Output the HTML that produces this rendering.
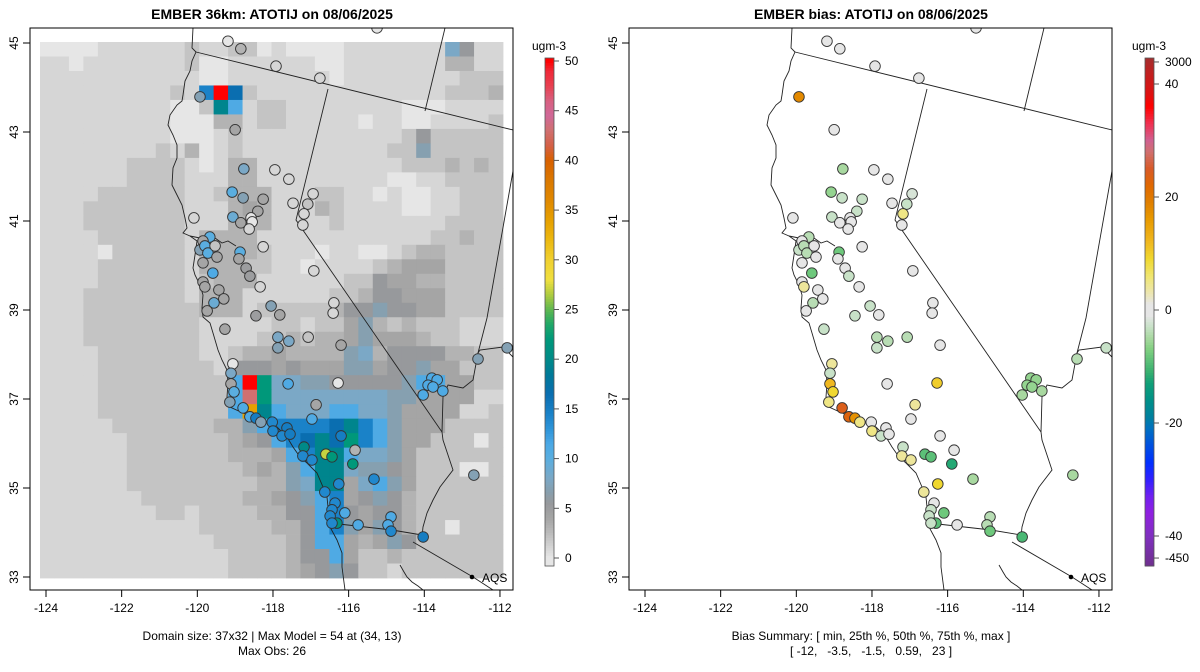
<!DOCTYPE html>
<html><head><meta charset="utf-8"><title>EMBER maps</title>
<style>
html,body{margin:0;padding:0;background:#fff;}
svg{display:block;font-family:"Liberation Sans",sans-serif;}
</style></head>
<body>
<svg id="root" width="1200" height="672" viewBox="0 0 1200 672" xmlns="http://www.w3.org/2000/svg">
<defs>
<clipPath id="clipL"><rect x="30" y="28" width="483" height="562"/></clipPath>
<clipPath id="clipR"><rect x="629" y="28" width="483" height="562"/></clipPath>
</defs>
</svg>
<script>
// ---------- DATA ----------
const gridRows = [
"aaaabbbbbbcbbccabaaaabbbbbbbhfbb",
"bbabbbbbbbcaabbbbbbaabbbbbbbddbb",
"bbbbbbbbbbbaabbbbbbbabbbbbbbbccc",
"bbbbbbbbbcbjpkcbbbbbbbbbbbbbcccd",
"bbbbbbbbbaaclibccbbbbbbbbaaabbbb",
"bbbbbbbbbaaaddbccbbbbbabbaabbbbc",
"bbbbbbbbbaaabcbbbbbbbbbbbcfccccc",
"bbbbbbbbcbdabcbbbbbbbbbbccgccccc",
"bbbbbbccccbabddbbbbbbbbbbcccdcdc",
"bbbbbbccccbbbddbbbbbbbbbaabbcccc",
"bbbbccccccbbcdddbbbccbbabaabbccc",
"bbbcccccccbbbdedbbbdcbbbbaabbccc",
"bbbcccccccbbbdddbbbbcbbbbbbbcccc",
"bbbbccccccbddddbbbbbbbbbbbbccdcc",
"bbbbacccccbddddcbbbabbaabcddcccc",
"bbbbccccccbdddccbbabbbbcdeeecccc",
"bbbbccccccbcdddbbbbbbccfeeddcccc",
"bbbcccccccbdddbbbbbbccdffeeecccc",
"bbbccccccccdddbcccccdffgffeecccc",
"bbbccccccccbbbbbccbccegdcdcccbbb",
"bbbccccccccbbbbccdcddegeeedccbbb",
"bbbbcccccccbbcddeddddghdffffddcc",
"bbbbccccccccbfffefeeeggeffgeeccc",
"bbbbcccccccccipmhhggfffffgiieecc",
"bbbbccccccccciomhhhhhhhhggeeeebb",
"bbbbcccccccccinlihhhiihhgeeeebbc",
"bbbbbcccccccddgijjjjkljigeeecccc",
"bbbbbbcccccccdefijklkmjigeecccac",
"bbbbbbcccccccdddeijllihhgecccccc",
"bbbbbbccccccccdedgillhggfecccaac",
"bbbbbbcccccccccddghllehigecccccc",
"bbbbbbbcccccccddefgijefgfdcccccc",
"bbbbbbbbccbccccddffijfeffdcccccc",
"bbbbbbbbbbbcccccddfijgegfdccaccc",
"bbbbbbbbbbbbcccccdfiiedegfcccccc",
"bbbbbbbbbbbbbccccdffieccdccccccc",
"bbbbbbbbbbbbbccccdefgfccbccccccc"
];
const codeValues = {a:0,b:1,c:2,d:3,e:4,f:5.5,g:6.8,h:8,i:11,j:14.5,k:16.5,l:19.5,m:22,n:34,o:43,p:50};

const siteLon = [-119.19,-118.85,-115.25,-117.92,-116.76,-119.93,-119.0,-118.77,-117.95,-117.58,-119.08,-118.79,-118.26,-117.47,-116.94,-117.08,-117.18,-117.21,-118.4,-119.06,-118.85,-118.58,-118.55,-118.63,-120.09,-119.67,-119.85,-119.93,-119.8,-119.72,-119.53,-119.48,-119.85,-118.87,-118.9,-118.26,-118.71,-118.61,-119.59,-119.85,-119.8,-119.43,-119.3,-119.56,-119.74,-118.34,-118.05,-118.45,-117.82,-116.92,-116.39,-116.41,-119.27,-117.87,-117.58,-117.87,-117.07,-116.2,-119.06,-119.11,-119.11,-119.03,-119.14,-118.79,-118.61,-118.45,-118.32,-118.02,-118.0,-117.63,-117.76,-117.55,-117.6,-116.28,-116.86,-116.97,-116.2,-115.83,-117.18,-117.21,-116.97,-116.6,-116.44,-115.89,-115.33,-116.26,-116.63,-116.36,-116.44,-116.1,-116.49,-116.31,-116.44,-115.75,-114.88,-114.96,-114.88,-114.03,-113.8,-113.66,-113.9,-113.77,-113.51,-114.03,-112.58,-111.81,-112.69];
const siteLat = [45.04,44.87,45.34,44.48,44.21,43.79,43.05,42.17,42.15,41.94,41.65,41.52,41.49,41.4,41.61,41.38,41.16,40.91,41.22,41.09,40.96,41.07,40.98,40.82,41.07,40.64,40.55,40.35,40.44,40.28,40.44,40.19,40.06,40.3,40.15,40.42,39.94,39.76,39.83,39.63,39.52,39.45,39.25,39.16,38.98,39.52,39.09,38.87,38.89,39.88,39.16,38.93,38.57,38.39,38.3,38.15,38.39,38.21,37.79,37.58,37.34,37.16,36.93,36.8,36.6,36.57,36.48,36.48,36.28,36.35,36.17,36.21,37.34,37.36,36.87,36.55,36.17,35.85,35.92,35.72,35.63,35.76,35.7,35.54,35.2,35.09,34.91,34.66,34.51,34.44,34.37,34.21,34.21,34.17,34.35,34.17,34.03,33.9,37.47,37.43,37.31,37.27,37.18,37.09,37.9,38.15,35.29];
const siteObs = [0,3,0,1,1,7,4,8,1,1,10,7,4,1,1,2,1,1,4,9,4,0,0,1,1,10,4,7,10,10,2,4,4,10,4,1,5,5,11,4,4,4,4,9,4,1,7,5,4,1,1,1,4,8,8,7,2,4,0,8,4,10,7,11,11,15,7,14,14,15,14,15,11,0,4,11,15,3,20,14,14,27,22,22,14,14,14,14,14,11,14,21,14,11,11,11,14,15,11,11,11,11,11,11,7,7,7];
const siteBias = [0,0,0,0,0,18,0,-5,0,0,-6,-3,-3,0,-2,-3,5,0,-3,-3,0,0,0,0,0,-4,0,-3,-4,-4,0,0,0,-8,0,0,0,-3,-8,0,4,0,0,-4,0,0,-3,-3,0,0,0,0,-3,-4,-4,-3,-4,0,4,-3,12,9,5,24,23,17,5,0,5,0,-3,0,0,10,4,0,0,0,-3,4,4,-9,-9,-12,-5,9,4,0,-3,-8,-3,-9,-3,0,-4,-4,-8,-10,-6,-6,-6,-6,-5,-5,-4,-3,-5];

const obsTicks = [0,5,10,15,20,25,30,35,40,45,50];
const biasTickVals = [43.9,40,20,0,-20,-40,-43.9];
const biasTickLabels = ["3000","40","20","0","-20","-40","-450"];
const lonTicks = [-124,-122,-120,-118,-116,-114,-112];
const latTicks = [33,35,37,39,41,43,45];

// ---------- SCALES ----------
const NS="http://www.w3.org/2000/svg";
const svg=document.getElementById('root');
const PANEL_OFF=[0,599];
function xL(lon,p){return 46+(lon+124)*37.83+PANEL_OFF[p];}
function yL(lat){return 43+(45-lat)*44.5;}
const GX0=40,GY0=42,GW=463,GH=536;
function cellX(c){return GX0+c*GW/32;}
function cellY(r){return GY0+r*GH/37;}
function obsY(v){return 558-v*9.94;}
function biasY(v){return 310-v*5.65;}

const obsStops=[[0,'#e6e6e6'],[1,'#d6d6d6'],[2,'#c4c4c4'],[3,'#b3b3b3'],[4,'#a5a5a5'],[5.5,'#97999c'],[6.8,'#86a0b0'],[8,'#7ba8c6'],[10,'#5aaee0'],[11.5,'#4aa8e6'],[13,'#2e94d8'],[14.5,'#1a82c8'],[16.5,'#0a6eb0'],[18.5,'#007a98'],[20,'#008a88'],[22,'#00987a'],[23.5,'#20a868'],[25,'#60b850'],[26.5,'#b0cc40'],[28,'#f0e040'],[30,'#f0d030'],[32,'#ecb810'],[34,'#e6a000'],[36,'#e08800'],[38,'#da7800'],[40,'#d86000'],[41.5,'#d46048'],[43,'#d07070'],[44.5,'#d06898'],[46,'#d86080'],[47.5,'#e84050'],[49,'#f02838'],[50,'#ff0000']];
const biasStops=[[45,'#a03030'],[42,'#c02020'],[38,'#e01010'],[36,'#ff0000'],[33,'#f03050'],[30,'#d06090'],[28,'#d07070'],[25,'#d85a28'],[22,'#e06800'],[19,'#e08000'],[16,'#e89a00'],[12,'#f0b820'],[9,'#f0d830'],[6,'#f0e670'],[3,'#ece6b0'],[1,'#e6e6e6'],[-1,'#e6e6e6'],[-3,'#c8e2c8'],[-5,'#a8d8a0'],[-7,'#80cf80'],[-9,'#5cc078'],[-11,'#38b070'],[-13,'#10a078'],[-16,'#009088'],[-19,'#0080a0'],[-21,'#0070c0'],[-24,'#0050e0'],[-27,'#0030ff'],[-30,'#3020ff'],[-33,'#7020f0'],[-36,'#9020e0'],[-40,'#8030c0'],[-45,'#703090']];
function hex(c){return [parseInt(c.slice(1,3),16),parseInt(c.slice(3,5),16),parseInt(c.slice(5,7),16)];}
function interp(stops,v){
  const s=stops.slice().sort((a,b)=>a[0]-b[0]);
  if(v<=s[0][0])return s[0][1]; if(v>=s[s.length-1][0])return s[s.length-1][1];
  for(let i=0;i<s.length-1;i++){if(v>=s[i][0]&&v<=s[i+1][0]){const t=(v-s[i][0])/(s[i+1][0]-s[i][0]);const a=hex(s[i][1]),b=hex(s[i+1][1]);return 'rgb('+a.map((x,k)=>Math.round(x+(b[k]-x)*t)).join(',')+')';}}
}
function mk(tag,attrs,parent){const e=document.createElementNS(NS,tag);for(const k in attrs)e.setAttribute(k,attrs[k]);(parent||svg).appendChild(e);return e;}

// ---------- GEOGRAPHY (left-panel pixel polylines) ----------
const coast=[[193,28],[192,48],[196,52],[192,61],[190,71],[185,81],[183,95],[182,101],[177,105],[170,115],[168,125],[173,135],[177,145],[177,158],[173,168],[172,185],[177,195],[182,205],[185,218],[187,228],[183,233],[190,236],[197,241],[195,255],[193,268],[195,275],[200,285],[203,295],[202,308],[203,317],[210,323],[213,333],[218,350],[222,360],[227,370],[228,383],[227,397],[230,407],[243,413],[263,420],[277,427],[287,437],[293,447],[300,457],[307,463],[317,473],[323,487],[327,497],[328,507],[327,517],[330,527],[337,540],[342,553],[342,567],[345,590]];
const bay=[[190,236],[200,238],[208,240],[215,238],[222,243],[228,241],[236,246]];
const gulf=[[400,565],[404,572],[407,577],[412,582],[418,586],[423,590]];
const orca=[[196,52],[513,130]];
const canv=[[328,89],[296,220],[442,432],[443,440],[453,470],[440,487],[433,500],[427,513],[423,527],[422,537]];
const mex=[[330,523],[392,530],[422,535]];
const azmex=[[413,542],[473,577],[493,590]];
const orid=[[445,28],[425,111]];
const nvut=[[513,171],[487,318],[478,353],[473,380],[463,388],[448,385],[443,397],[442,432]];
const utaz=[[478,353],[480,350],[503,347],[513,357]];

// ---------- DRAW ----------
const panels=[{clip:'clipL',name:'left'},{clip:'clipR',name:'right'}];
const hm=mk('g',{'clip-path':'url(#clipL)'});


gridRows.forEach((row,r)=>{
  for(let c=0;c<32;c++){
    const v=codeValues[row[c]];
    const x0=cellX(c),x1=cellX(c+1),y0=cellY(r),y1=cellY(r+1);
    const rc=mk('rect',{x:x0,y:y0,width:x1-x0+0.4,height:y1-y0+0.4,fill:interp(obsStops,v)},hm);
    
    
  }
});

panels.forEach((P,p)=>{
  const g=mk('g',{'clip-path':'url(#'+P.clip+')',fill:'none',stroke:'#222','stroke-width':'0.9'});
  
  
  [coast,bay,gulf,orca,canv,mex,azmex,orid,nvut,utaz].forEach(line=>{
    mk('polyline',{points:line.map(q=>(q[0]+PANEL_OFF[p])+','+q[1]).join(' ')},g);
  });
  const sg=mk('g',{'clip-path':'url(#'+P.clip+')'});
  
  
  for(let i=0;i<siteLon.length;i++){
    const col=p===0?interp(obsStops,siteObs[i]):interp(biasStops,siteBias[i]);
    const c=mk('circle',{cx:xL(siteLon[i],p),cy:yL(siteLat[i]),r:5.3,fill:col,stroke:'#333','stroke-width':'0.9'},sg);
    
    
  }
  const fr=mk('rect',{x:30+PANEL_OFF[p],y:28,width:483,height:562,fill:'none',stroke:'#000','stroke-width':'1'});
  
  
  const ax=mk('g',{stroke:'#000','stroke-width':'1'});
  
  
  lonTicks.forEach(t=>{
    const x=xL(t,p);
    mk('line',{x1:x,x2:x,y1:590,y2:597},ax);
    const tx=mk('text',{x:x,y:612,'font-size':'12','text-anchor':'middle',fill:'#000',stroke:'none'},ax);
    tx.textContent=t;
    
    
  });
  latTicks.forEach(t=>{
    const y=yL(t);const x0=30+PANEL_OFF[p];
    mk('line',{x1:x0,x2:x0-7,y1:y,y2:y},ax);
    const tx=mk('text',{x:x0-12,y:y,'font-size':'12','text-anchor':'middle',fill:'#000',stroke:'none',transform:'rotate(-90 '+(x0-12)+' '+y+')'},ax);
    tx.textContent=t;
    
    
  });
  const lg=mk('g',{});
  
  
  mk('circle',{cx:472+PANEL_OFF[p],cy:577,r:2.3,fill:'#000'},lg);
  const lt=mk('text',{x:482+PANEL_OFF[p],y:582,'font-size':'12',fill:'#000'},lg);
  lt.textContent='AQS';
});

function colorbar(x,stops,yfun,vTop,vBot,ticksV,ticksL,name){
  const g=mk('g',{});
  
  
  const N=200,y0=58,y1=566;
  for(let i=0;i<N;i++){
    const ya=y0+(y1-y0)*i/N,yb=y0+(y1-y0)*(i+1)/N;
    const ym=(ya+yb)/2;
    const v=vTop+(vBot-vTop)*(ym-yfun(vTop))/(yfun(vBot)-yfun(vTop));
    mk('rect',{x:x,y:ya,width:9,height:yb-ya+0.5,fill:interp(stops,v)},g);
  }
  mk('rect',{x:x,y:y0,width:9,height:y1-y0,fill:'none',stroke:'#555','stroke-width':'0.8'},g);
  const u=mk('text',{x:x+4,y:50,'font-size':'12','text-anchor':'middle',fill:'#000'},g);u.textContent='ugm-3';
  ticksV.forEach((v,i)=>{
    const y=yfun(v);
    mk('line',{x1:x+9,x2:x+14,y1:y,y2:y,stroke:'#555'},g);
    const t=mk('text',{x:x+20,y:y+4,'font-size':'12',fill:'#000'},g);
    t.textContent=ticksL[i];
    
    
  });
}
colorbar(545,obsStops,obsY,50.3,-0.8,obsTicks,obsTicks.map(String),'left-colorbar');
colorbar(1145,biasStops,biasY,44.8,-45,biasTickVals,biasTickLabels,'right-colorbar');

function txt(x,y,s,attrs,name){const t=mk('text',Object.assign({x:x,y:y,'font-size':'12','text-anchor':'middle',fill:'#000'},attrs||{}));t.textContent=s;return t;}
txt(272,19,'EMBER 36km: ATOTIJ on 08/06/2025',{'font-weight':'bold','font-size':'14'},'left-title');
txt(871,19,'EMBER bias: ATOTIJ on 08/06/2025',{'font-weight':'bold','font-size':'14'},'right-title');
txt(272,640,'Domain size: 37x32 | Max Model = 54 at (34, 13)',{},'left-caption-line1');
txt(272,655,'Max Obs: 26',{},'left-caption-line2');
txt(871,640,'Bias Summary: [ min, 25th %, 50th %, 75th %, max ]',{},'right-caption-line1');
const c2=txt(871,655,'[ -12,   -3.5,   -1.5,   0.59,   23 ]',{},'right-caption-line2');
c2.setAttribute('xml:space','preserve');c2.style.whiteSpace='pre';
</script>
</body></html>
